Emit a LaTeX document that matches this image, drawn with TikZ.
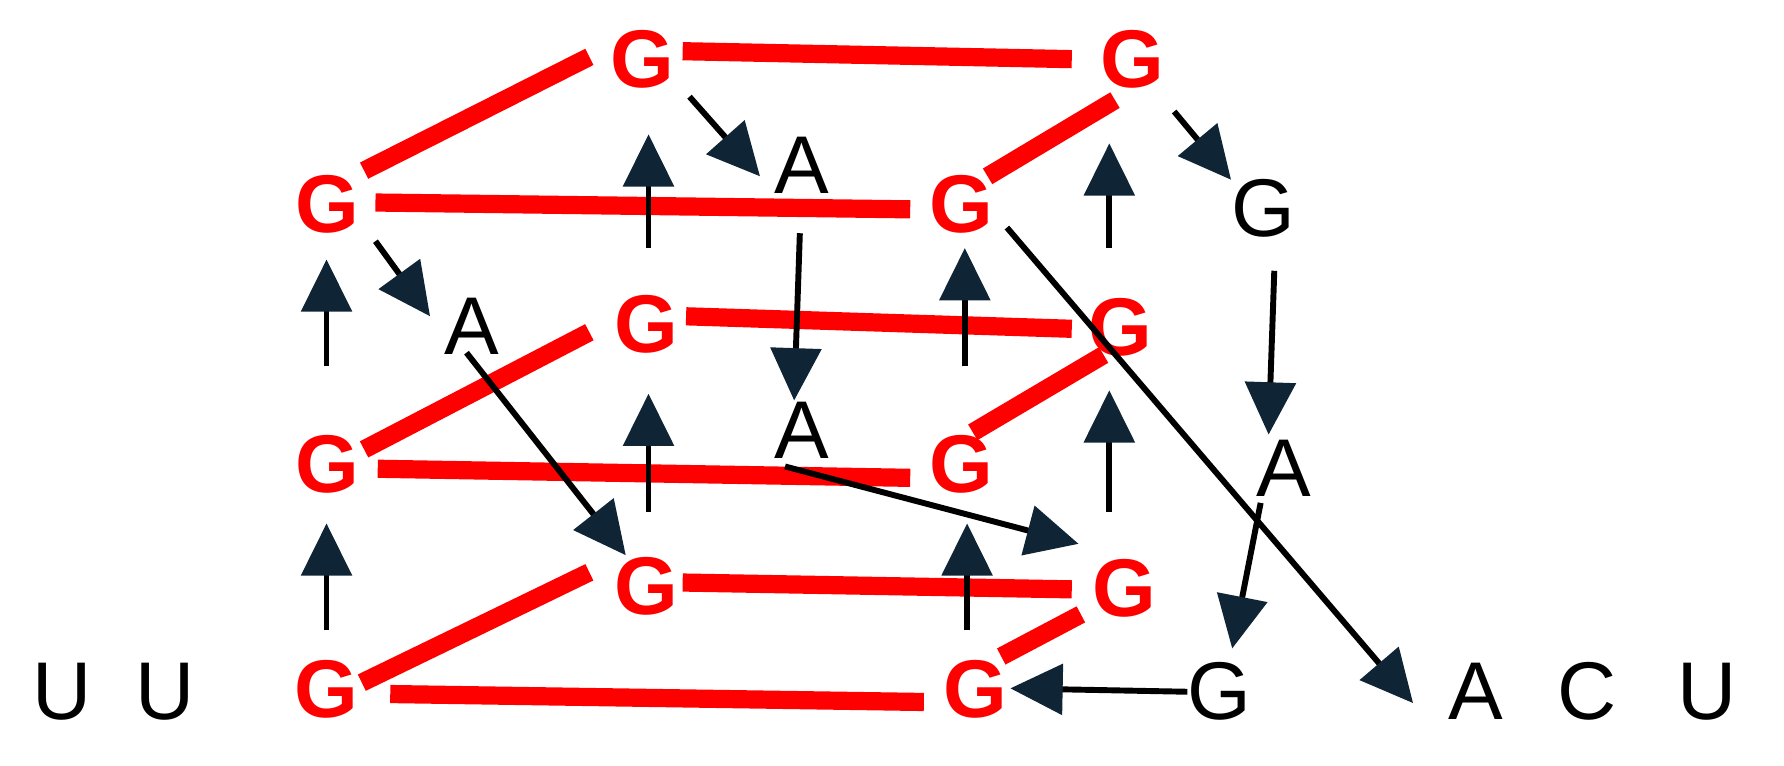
\documentclass[tikz,border=0pt]{standalone}
\usepackage{fontspec}
\setmainfont{Liberation Sans}
\usetikzlibrary{arrows.meta}
\definecolor{hd}{HTML}{0F2535}
\begin{document}
\begin{tikzpicture}[x=0.5pt,y=-0.5pt,
  rg/.style={text=red,font=\fontsize{36}{36}\selectfont\bfseries,inner sep=0},
  bk/.style={text=black,font=\fontsize{36}{36}\selectfont,inner sep=0},
  bar/.style={red,line width=8pt},
  arr/.style={draw=black,line width=2.6pt,-{Triangle[length=23pt,width=22pt,fill=hd,color=hd]}}]
\useasboundingbox (0,0) rectangle (1568,673);
% red G's
\node[rg] (g1) at (565,52) {G};
\node[rg] (g2) at (995,52) {G};
\node[rg] (g3) at (288,180) {G};
\node[rg] (g4) at (845,180) {G};
\node[rg] (g5) at (568,285) {G};
\node[rg] (g6) at (985,288) {G};
\node[rg] (g7) at (288,408) {G};
\node[rg] (g8) at (845,408) {G};
\node[rg] (g9) at (568,515) {G};
\node[rg] (g10) at (988,517) {G};
\node[rg] (g11) at (287,606) {G};
\node[rg] (g12) at (857,606) {G};
% black letters
\node[bk] (u1) at (55,608) {U};
\node[bk] (u2) at (145,608) {U};
\node[bk] (gb) at (1072,608) {G};
\node[bk] (a5) at (1297,608) {A};
\node[bk] (c1) at (1395,608) {C};
\node[bk] (u3) at (1500,608) {U};
\node[bk] (a1) at (705,145) {A};
\node[bk] (a2) at (415,287) {A};
\node[bk] (a3) at (705,378) {A};
\node[bk] (a4) at (1128,412) {A};
\node[bk] (gt) at (1110,183) {G};
% red bars
\draw[bar] (320,150) -- (518,50);
\draw[bar] (600,45) -- (942,52);
\draw[bar] (330,178) -- (800,184);
\draw[bar] (868,155) -- (980,88);
\draw[bar] (603,278) -- (942,289);
\draw[bar] (320,395) -- (518,292);
\draw[bar] (332,412) -- (800,420);
\draw[bar] (855,380) -- (970,312);
\draw[bar] (600,512) -- (942,518);
\draw[bar] (318,600) -- (518,503);
\draw[bar] (343,610) -- (812,617);
\draw[bar] (880,577) -- (950,540);
% arrows
\draw[arr] (287,322) -- (287,228);
\draw[arr] (287,554) -- (287,460);
\draw[arr] (570,218) -- (570,118);
\draw[arr] (570,450) -- (570,346);
\draw[arr] (848,322) -- (848,218);
\draw[arr] (850,554) -- (850,460);
\draw[arr] (975,218) -- (975,126);
\draw[arr] (975,450) -- (975,343);
\draw[arr] (606,85) -- (668,155);
\draw[arr] (330,212) -- (378,278);
\draw[arr] (1032,98) -- (1082,158);
\draw[arr] (703,205) -- (698,352);
\draw[arr] (1120,238) -- (1115,382);
\draw[arr] (410,310) -- (550,488);
\draw[arr] (690,410) -- (948,478);
\draw[arr] (1108,442) -- (1083,570);
\draw[arr] (885,200) -- (1242,618);
\draw[arr] (gb.west) -- (888,605);
\end{tikzpicture}
\end{document}
